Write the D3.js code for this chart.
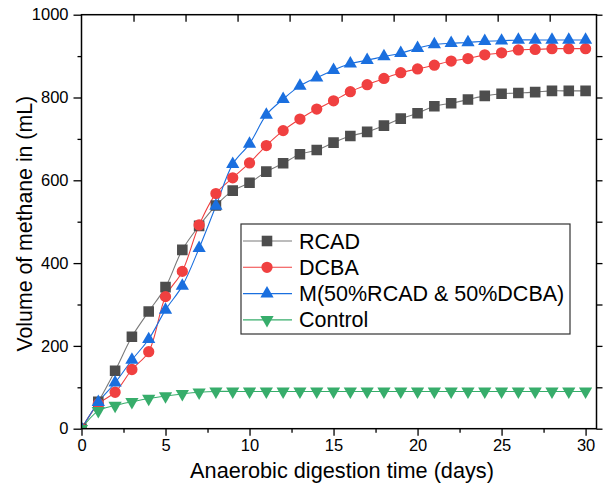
<!DOCTYPE html>
<html>
<head>
<meta charset="utf-8">
<script src="https://cdn.jsdelivr.net/npm/d3@7"></script>
<style>
  html, body { margin: 0; padding: 0; background: #ffffff; }
  svg { display: block; font-family: "Liberation Sans", Arial, sans-serif; }
</style>
</head>
<body>
<svg id="chart" width="603" height="491"></svg>
<script>
// ---------- data ----------
const days = d3.range(0, 31);
const rcad = [0,65,140,222,283,342,432,490,539,575,594,621,641,663,673,691,707,717,732,749,762,779,786,795,804,809,811,813,816,816,816];
const dcba = [0,60,88,143,186,319,380,492,568,606,642,684,720,748,772,792,814,831,846,860,869,878,888,894,903,908,915,916,918,918,918];
const mix  = [0,64,111,166,216,287,345,436,538,639,688,758,796,828,848,866,882,890,899,907,919,928,931,933,936,937,939,939,939,939,939];
const control = [0,43,56,65,73,79,84,88,90,90,90,90,90,90,90,90,90,90,90,90,90,90,90,90,90,90,90,90,90,90,90];
const seriesNames = ["RCAD", "DCBA", "M(50%RCAD & 50%DCBA)", "Control"];
const xTicks = [0, 5, 10, 15, 20, 25, 30];
const yTicks = [0, 200, 400, 600, 800, 1000];
const xLabel = "Anaerobic digestion time (days)";
const yLabel = "Volume of methane in (mL)";

// ---------- styling ----------
const markColors = ["#4d4d4d", "#f04040", "#1a6fdf", "#37ad6b"];
const lineColors = ["#7a7a7a", "#f04040", "#1a6fdf", "#37ad6b"];
const symbols = [d3.symbolSquare, d3.symbolCircle, d3.symbolTriangle, d3.symbolTriangle];
const symSizes = [112, 100, 76, 76];
const rotations = [0, 0, 0, 180];

const svg = d3.select("#chart");
const pL = 81.5, pR = 596.5, pT = 14.7, pB = 428.7;

const x = d3.scaleLinear().domain([0, 30.65]).range([pL, pR]);
const y = d3.scaleLinear().domain([0, 1000]).range([pB, pT]);
const xTop = d3.scaleLinear().domain([0, 9.9]).range([pL, pR]);

const seriesData = [rcad, dcba, mix, control].map((vals, i) => ({
  name: seriesNames[i],
  pts: days.map((d, j) => ({ d: d, v: vals[j] })),
  i: i
}));

svg.append("defs").append("clipPath").attr("id", "clip")
  .append("rect").attr("x", pL).attr("y", pT).attr("width", pR - pL).attr("height", pB - pT);

const plot = svg.append("g").attr("clip-path", "url(#clip)");

const line = d3.line().x(p => x(p.d)).y(p => y(p.v)).curve(d3.curveCatmullRom.alpha(0.5));

const drawOrder = [0, 1, 2, 3];
drawOrder.forEach(i => {
  const s = seriesData[i];
  plot.append("path").datum(s.pts)
    .attr("d", line)
    .attr("fill", "none")
    .attr("stroke", lineColors[i])
    .attr("stroke-width", 1.1);
});
drawOrder.forEach(i => {
  const s = seriesData[i];
  plot.append("g").selectAll("path").data(s.pts).join("path")
    .attr("d", d3.symbol().type(symbols[i]).size(symSizes[i]))
    .attr("transform", p => `translate(${x(p.d)},${y(p.v)}) rotate(${rotations[i]})`)
    .attr("fill", markColors[i]);
});

// ---------- axes ----------
const tickFont = 16.5;
const ff = '"Liberation Sans", Arial, sans-serif';
const xAxis = d3.axisBottom(x).tickValues(xTicks).tickSize(7).tickPadding(4).tickFormat(d3.format("d"));
const gx = svg.append("g").attr("transform", `translate(0,${pB})`).call(xAxis);
gx.select(".domain").remove();
gx.selectAll("line").attr("stroke", "#000").attr("stroke-width", 1.3);
gx.selectAll("text").attr("font-size", tickFont).attr("fill", "#000").attr("font-family", ff);
const xMinor = d3.axisBottom(x).tickValues(d3.range(2.5, 30, 5)).tickSize(4).tickFormat("");
const gxm = svg.append("g").attr("transform", `translate(0,${pB})`).call(xMinor);
gxm.select(".domain").remove();
gxm.selectAll("line").attr("stroke", "#000").attr("stroke-width", 1.3);

const yAxis = d3.axisLeft(y).tickValues(yTicks).tickSize(8).tickPadding(5).tickFormat(d3.format("d"));
const gy = svg.append("g").attr("transform", `translate(${pL},0)`).call(yAxis);
gy.select(".domain").remove();
gy.selectAll("line").attr("stroke", "#000").attr("stroke-width", 1.3);
gy.selectAll("text").attr("font-size", tickFont).attr("fill", "#000").attr("font-family", ff);
const yMinor = d3.axisLeft(y).tickValues(d3.range(100, 1000, 200)).tickSize(4).tickFormat("");
const gym = svg.append("g").attr("transform", `translate(${pL},0)`).call(yMinor);
gym.select(".domain").remove();
gym.selectAll("line").attr("stroke", "#000").attr("stroke-width", 1.3);

const yRight = d3.axisRight(y).tickValues(d3.range(0, 1001, 100)).tickSize(6).tickFormat("");
const gyr = svg.append("g").attr("transform", `translate(${pR},0)`).call(yRight);
gyr.select(".domain").remove();
gyr.selectAll("line").attr("stroke", "#000").attr("stroke-width", 1.3);

const xTopAxis = d3.axisBottom(xTop).tickValues(d3.range(1, 10)).tickSize(7).tickFormat("");
const gxt = svg.append("g").attr("transform", `translate(0,${pT})`).call(xTopAxis);
gxt.select(".domain").remove();
gxt.selectAll("line").attr("stroke", "#000").attr("stroke-width", 1.3);

svg.append("rect").attr("x", pL).attr("y", pT).attr("width", pR - pL).attr("height", pB - pT)
  .attr("fill", "none").attr("stroke", "#000").attr("stroke-width", 1.5);

svg.append("text").attr("x", 342).attr("y", 478)
  .attr("text-anchor", "middle").attr("font-size", 21.7).attr("fill", "#000").text(xLabel);
svg.append("text").attr("transform", `translate(32,${(pT + pB) / 2 + 2}) rotate(-90)`)
  .attr("text-anchor", "middle").attr("font-size", 21.3).attr("fill", "#000").text(yLabel);

// ---------- legend ----------
const lg = svg.append("g");
lg.append("rect").attr("x", 241).attr("y", 224).attr("width", 329).attr("height", 110)
  .attr("fill", "#fff").attr("stroke", "#333").attr("stroke-width", 1.2);
seriesNames.forEach((name, i) => {
  const cy = 241 + i * 26.3;
  lg.append("line").attr("x1", 243).attr("x2", 292).attr("y1", cy).attr("y2", cy)
    .attr("stroke", lineColors[i]).attr("stroke-width", 1.1);
  lg.append("path").attr("d", d3.symbol().type(symbols[i]).size(symSizes[i]))
    .attr("transform", `translate(267,${cy}) rotate(${rotations[i]})`).attr("fill", markColors[i]);
  lg.append("text").attr("x", 299).attr("y", cy).attr("dy", "0.35em")
    .attr("font-size", 21.5).attr("fill", "#000").text(name);
});
</script>
</body>
</html>
